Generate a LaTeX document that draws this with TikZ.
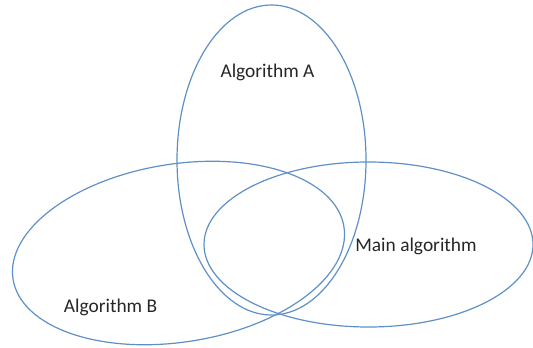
\documentclass[tikz,border=0pt]{standalone}
\usepackage{fontspec}
\setmainfont{Carlito}
\usepackage{tikz}
\usetikzlibrary{shapes.geometric}

\definecolor{setblue}{RGB}{95,143,199}

\begin{document}
\begin{tikzpicture}[
    x=0.5pt, y=-0.5pt,
    every node/.style={font=\fontsize{9.7}{11}\selectfont},
    setshape/.style={ellipse, draw=setblue, line width=0.6pt, inner sep=0pt},
    setlabel/.style={anchor=base, text=black!85},
]
\useasboundingbox (0,0) rectangle (533,347);

\node[setshape, minimum width=94.5pt, minimum height=155pt] (algA) at (271.5,160) {};
\node[setshape, minimum width=167.5pt, minimum height=89pt, rotate=9] (algB) at (178.5,253) {};
\node[setshape, minimum width=164.5pt, minimum height=82.5pt] (mainalg) at (368.5,244.5) {};

\node[setlabel] (labA) at (267.5,78) {Algorithm A};
\node[setlabel] (labB) at (110.5,312) {Algorithm B};
\node[setlabel] (labmain) at (416,251) {Main algorithm};
\end{tikzpicture}
\end{document}
